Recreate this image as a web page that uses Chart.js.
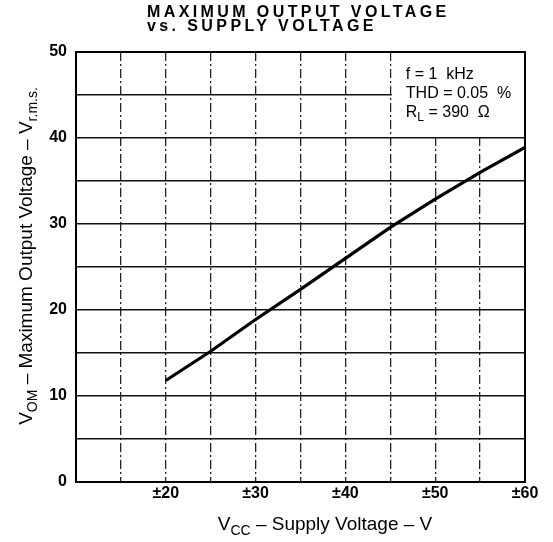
<!DOCTYPE html>
<html>
<head>
<meta charset="utf-8">
<script src="https://cdn.jsdelivr.net/npm/chart.js@4.4.1/dist/chart.umd.min.js"></script>
<style>
html,body{margin:0;padding:0;background:#fff;}
#wrap{width:553px;height:542px;}
</style>
</head>
<body>
<div id="wrap"><canvas id="c" width="553" height="542"></canvas></div>
<script>
// ---- data ----
const supplyVoltage = [20, 25, 30, 35, 40, 45, 50, 55, 60];
const maxOutputVoltage = [11.8, 15.2, 18.9, 22.4, 26.0, 29.6, 32.9, 36.0, 38.9];
const xTickValues = [20, 30, 40, 50, 60];
const xTickLabels = ['±20', '±30', '±40', '±50', '±60'];
const yTickValues = [0, 10, 20, 30, 40, 50];
const yTickLabels = ['0', '10', '20', '30', '40', '50'];
const titleLines = ['MAXIMUM OUTPUT VOLTAGE', 'vs. SUPPLY VOLTAGE'];
const noteLines = ['f = 1  kHz', 'THD = 0.05  %', 'R|L| = 390  Ω'];

const FONT = '"Liberation Sans", Arial, Helvetica, sans-serif';

function drawRich(ctx, parts, x, y, size, align, weight) {
  const w0 = weight ? weight + ' ' : '';
  let total = 0;
  const widths = parts.map(p => {
    ctx.font = w0 + (p.sub ? Math.round(size * 0.76) : size) + 'px ' + FONT;
    const w = ctx.measureText(p.t).width;
    total += w;
    return w;
  });
  let cx = align === 'center' ? x - total / 2 : x;
  parts.forEach((p, i) => {
    ctx.font = w0 + (p.sub ? Math.round(size * 0.76) : size) + 'px ' + FONT;
    ctx.fillText(p.t, cx, y + (p.sub ? size * 0.3 : 0));
    cx += widths[i];
  });
}

const decor = {
  id: 'decor',
  beforeDraw(chart) {
    const ctx = chart.ctx;
    ctx.save();
    ctx.fillStyle = '#fff';
    ctx.fillRect(0, 0, chart.width, chart.height);
    ctx.restore();
  },
  beforeDatasetsDraw(chart) {
    const {ctx, scales: {x, y}} = chart;
    const l = x.getPixelForValue(45) + 1.5, r = x.getPixelForValue(60);
    const t = y.getPixelForValue(50), b = y.getPixelForValue(40) - 1.5;
    ctx.save();
    ctx.fillStyle = '#fff';
    ctx.fillRect(l, t, r - l, b - t);
    ctx.fillStyle = '#000';
    ctx.textBaseline = 'middle';
    ctx.textAlign = 'left';
    const tx = l + 14;
    noteLines.forEach((s, i) => {
      const parts = s.split('|');
      const rich = parts.length === 3
        ? [{t: parts[0]}, {t: parts[1], sub: true}, {t: parts[2]}]
        : [{t: s}];
      drawRich(ctx, rich, tx, t + 23 + i * 19, 16, 'left');
    });
    ctx.restore();
  },
  afterDatasetsDraw(chart) {
    const {ctx, chartArea: a} = chart;
    ctx.save();
    ctx.strokeStyle = '#000';
    ctx.lineWidth = 2;
    ctx.strokeRect(a.left, a.top, a.right - a.left, a.bottom - a.top);
    ctx.restore();
  },
  afterDraw(chart) {
    const {ctx} = chart;
    ctx.save();
    ctx.fillStyle = '#000';
    ctx.textBaseline = 'middle';
    ctx.textAlign = 'left';
    ctx.font = 'bold 16px ' + FONT;
    ctx.letterSpacing = '3.4px';
    ctx.fillText(titleLines[0], 147, 13);
    ctx.fillText(titleLines[1], 147, 27);
    ctx.letterSpacing = '0px';
    // x axis title
    drawRich(ctx, [{t: 'V'}, {t: 'CC', sub: true}, {t: ' – Supply Voltage – V'}], 325, 525, 19, 'center');
    // y axis title
    ctx.translate(27, 256);
    ctx.rotate(-Math.PI / 2);
    drawRich(ctx, [{t: 'V'}, {t: 'OM', sub: true}, {t: ' – Maximum Output Voltage – V'}, {t: 'r.m.s.', sub: true}], 0, 0, 19, 'center');
    ctx.restore();
  }
};

new Chart(document.getElementById('c'), {
  type: 'scatter',
  data: {
    datasets: [{
      data: supplyVoltage.map((v, i) => ({x: v, y: maxOutputVoltage[i]})),
      showLine: true,
      borderColor: '#000',
      borderWidth: 3.2,
      pointRadius: 0,
      tension: 0
    }]
  },
  options: {
    responsive: false,
    animation: false,
    events: [],
    layout: {padding: {top: 52, right: 28, bottom: 0, left: 0}},
    plugins: {legend: {display: false}, tooltip: {enabled: false}, title: {display: false}},
    scales: {
      x: {
        type: 'linear', min: 10, max: 60,
        afterFit: s => { s.height = 60; },
        grid: {color: '#222', lineWidth: 1.3, drawTicks: false},
        border: {display: false, dash: [9, 3, 2, 3]},
        ticks: {
          stepSize: 5, autoSkip: false, maxRotation: 0, padding: 2,
          color: '#000', font: {family: FONT, size: 16, weight: 'bold'},
          callback: v => { const i = xTickValues.indexOf(v); return i >= 0 ? xTickLabels[i] : ''; }
        }
      },
      y: {
        type: 'linear', min: 0, max: 50,
        afterFit: s => { s.width = 76; },
        grid: {color: '#111', lineWidth: 1.6, drawTicks: false},
        border: {display: false},
        ticks: {
          stepSize: 5, autoSkip: false, padding: 9,
          color: '#000', font: {family: FONT, size: 16, weight: 'bold'},
          callback: v => { const i = yTickValues.indexOf(v); return i >= 0 ? yTickLabels[i] : ''; }
        }
      }
    }
  },
  plugins: [decor]
});
</script>
</body>
</html>
